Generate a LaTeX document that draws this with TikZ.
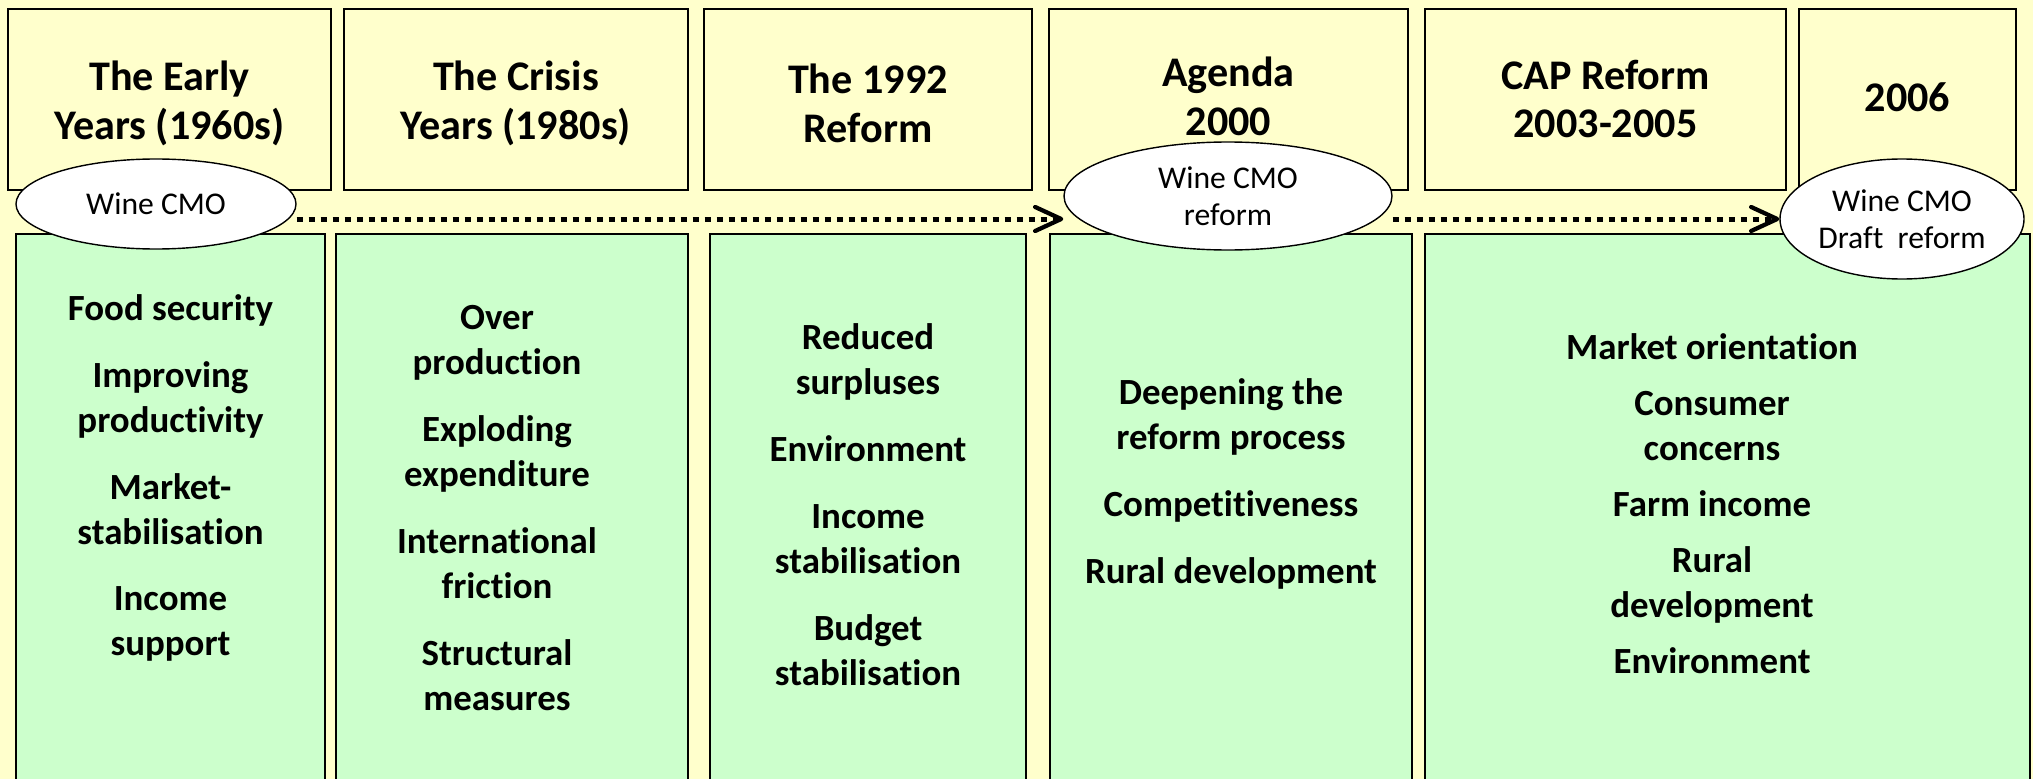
\documentclass[tikz,border=0pt]{standalone}
\usepackage{fontspec}
\setmainfont{Carlito}[Ligatures=NoCommon]
\usetikzlibrary{shapes.geometric,arrows.meta}
\definecolor{paleyellow}{HTML}{FFFFCC}
\definecolor{palegreen}{HTML}{CCFFCC}
\tikzset{
  period/.style={draw, line width=0.8pt, fill=paleyellow},
  periodtext/.style={align=center, font=\fontsize{24}{27.8}\selectfont\bfseries},
  aims/.style={draw, line width=0.8pt, fill=palegreen},
  aimtext/.style={align=center, font=\fontsize{21}{25.6}\selectfont\bfseries},
  cmo/.style={ellipse, draw, line width=0.8pt, fill=white, inner sep=0pt,
    align=center, font=\fontsize{18}{21}\selectfont},
  flow/.style={line width=1mm, dash pattern=on 1.2mm off 1.2mm,
    -{Straight Barb[length=5.2mm,width=4.8mm,line width=0.85mm,round]}}
}
\begin{document}
\begin{tikzpicture}[x=0.2mm, y=-0.2mm]
\clip (0,0) rectangle (2033,779);
\fill[paleyellow] (0,0) rectangle (2033,779);

\draw[period] (8,9) rectangle (331,190);
\draw[period] (344,9) rectangle (688,190);
\draw[period] (704,9) rectangle (1032,190);
\draw[period] (1049,9) rectangle (1408,190);
\draw[period] (1425,9) rectangle (1786,190);
\draw[period] (1799,9) rectangle (2016,190);

\node[periodtext] (p1) at (169.5,103) {The Early\\Years (1960s)};
\node[periodtext] (p2) at (516,103) {The Crisis\\Years (1980s)};
\node[periodtext] (p3) at (868,103) {The 1992\\Reform};
\node[periodtext] (p4) at (1228.5,96) {Agenda\\2000};
\node[periodtext] (p5) at (1605.5,99) {CAP Reform\\2003-2005};
\node[periodtext] (p6) at (1907.5,97) {2006};

\draw[aims] (16,234) rectangle (325,800);
\draw[aims] (336,234) rectangle (688,800);
\draw[aims] (710,234) rectangle (1026,800);
\draw[aims] (1050,234) rectangle (1412,800);
\draw[aims] (1425,234) rectangle (2030,800);

\node[aimtext] (a1) at (170.5,478) {Food security\\[12.5pt]Improving\\productivity\\[12.5pt]Market-\\stabilisation\\[12.5pt]Income\\support};
\node[aimtext] (a2) at (497,508) {Over\\production\\[12.5pt]Exploding\\expenditure\\[12.5pt]International\\friction\\[12.5pt]Structural\\measures};
\node[aimtext] (a3) at (868,505) {Reduced\\surpluses\\[12.5pt]Environment\\[12.5pt]Income\\stabilisation\\[12.5pt]Budget\\stabilisation};
\node[aimtext] (a4) at (1231,484) {Deepening the\\reform process\\[12.5pt]Competitiveness\\[12.5pt]Rural development};
\node[aimtext] (a5) at (1712,504) {Market orientation\\[6.3pt]Consumer\\concerns\\[6.3pt]Farm income\\[6.3pt]Rural\\development\\[6.3pt]Environment};

\node[cmo, minimum width=56mm, minimum height=18mm] (e1) at (156,204) {Wine CMO};
\node[cmo, minimum width=65.6mm, minimum height=21.6mm] (e2) at (1228,196) {Wine CMO\\reform};
\node[cmo, minimum width=48.8mm, minimum height=24mm] (e3) at (1902,219) {Wine CMO\\Draft\ \ reform};

\coordinate (lane) at (0,219);
\draw[flow] (e1.east |- lane) -- (e2.west |- lane);
\draw[flow] (e2.east |- lane) -- (e3.west |- lane);
\end{tikzpicture}
\end{document}
